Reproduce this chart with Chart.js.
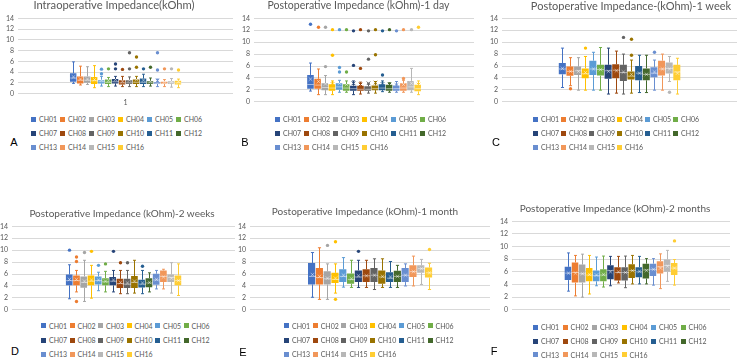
<!DOCTYPE html>
<html>
<head>
<meta charset="utf-8">
<script src="https://cdn.jsdelivr.net/npm/chart.js@4.4.1/dist/chart.umd.min.js"></script>
<style>
  body { margin: 0; width: 740px; height: 358px; background: #fff; position: relative; overflow: hidden; font-family: Lato, sans-serif; }
  canvas { position: absolute; }
  .ttl { position: absolute; color: #595959; white-space: nowrap; line-height: 1.2; transform: translate(-50%, -50%); }
  .leg { position: absolute; font-size: 7px; line-height: 8px; color: #595959; white-space: nowrap; }
  .leg i { position: absolute; left: 0; top: 1.5px; width: 5px; height: 5px; }
  .leg span { position: absolute; left: 8px; top: 0; }
  .tag { position: absolute; font: 11px "Liberation Sans", Arial, sans-serif; color: #000; transform: translate(-50%, -50%); }
</style>
</head>
<body>
<script>
  // channels and Excel-style series colours
  const channels = ['CH01', 'CH02', 'CH03', 'CH04', 'CH05', 'CH06', 'CH07', 'CH08',
                    'CH09', 'CH10', 'CH11', 'CH12', 'CH13', 'CH14', 'CH15', 'CH16'];
  const colors = ['#4472C4', '#ED7D31', '#A5A5A5', '#FFC000', '#5B9BD5', '#70AD47', '#264478', '#9E480E',
                  '#636363', '#997300', '#255E91', '#43682B', '#698ED0', '#F1975A', '#B7B7B7', '#FFCD33'];

  // each row: [min, q1, median, q3, max, mean]  (kOhm)
  const intraopBox = [
    [1.9, 2.2, 2.9, 3.8, 5.9, 3.1], [1.6, 1.9, 2.5, 3.2, 5.1, 2.7], [1.7, 2.0, 2.5, 3.2, 5.0, 2.7], [1.1, 1.8, 2.4, 3.1, 5.2, 2.6],
    [1.4, 1.9, 2.2, 2.5, 3.2, 2.5], [1.3, 1.8, 2.1, 2.6, 3.0, 2.4], [1.4, 1.9, 2.2, 2.7, 3.2, 2.6], [1.3, 1.7, 2.0, 2.5, 3.2, 2.3],
    [1.3, 1.8, 2.0, 2.5, 3.1, 2.5], [1.3, 1.8, 2.1, 2.6, 3.2, 2.6], [1.3, 1.8, 2.1, 2.8, 3.6, 2.5], [1.4, 1.8, 2.0, 2.3, 2.9, 2.3],
    [1.3, 1.8, 1.9, 2.1, 2.7, 2.4], [1.3, 1.8, 1.9, 2.2, 2.6, 2.2], [1.2, 1.8, 2.0, 2.3, 2.8, 2.2], [1.1, 1.7, 2.0, 2.4, 2.7, 2.2]
  ];
  const intraopOut = [[], [], [], [], [4.55, 3.7], [4.6], [5.5, 4.6], [4.5], [7.6, 4.6], [6.8, 4.9], [4.6], [4.9], [7.6, 4.4], [4.6], [4.6], [4.4]];

  const day1Box = [
    [1.8, 2.2, 2.9, 4.5, 6.5, 3.8], [1.2, 2.2, 2.8, 3.85, 5.5, 3.4], [1.2, 1.95, 2.4, 3.1, 4.4, 3.0], [1.2, 1.85, 2.3, 2.95, 3.5, 3.0],
    [1.6, 2.0, 2.5, 3.1, 3.6, 3.1], [1.6, 1.85, 2.3, 2.95, 3.5, 2.9], [1.2, 1.85, 2.2, 2.7, 3.5, 3.1], [1.3, 1.85, 2.1, 2.7, 3.3, 2.9],
    [1.45, 1.85, 2.1, 2.6, 3.1, 3.1], [1.45, 1.95, 2.2, 2.75, 3.4, 3.2], [1.7, 1.95, 2.3, 2.95, 3.5, 3.0], [1.6, 1.85, 2.2, 2.85, 3.2, 2.9],
    [1.6, 1.85, 2.2, 2.75, 3.4, 2.8], [1.6, 1.85, 2.3, 3.1, 3.6, 2.9], [1.6, 1.95, 2.5, 3.5, 5.6, 3.1], [1.2, 1.75, 2.2, 2.85, 3.5, 2.9]
  ];
  const day1Out = [[13.0], [12.5], [12.5, 5.9], [12.1, 7.8], [12.1, 5.75, 5.0], [12.1, 5.0], [11.9, 6.1], [12.1, 5.6],
                   [11.9, 7.15], [12.1, 7.9], [11.9, 4.5], [12.1], [11.9], [12.1, 3.9], [12.1], [12.5]];

  const week1Box = [
    [2.4, 4.6, 5.5, 6.5, 9.0, 5.6], [2.7, 4.35, 5.1, 5.9, 7.4, 5.1], [1.95, 4.5, 5.2, 5.9, 7.4, 5.1], [1.95, 3.95, 4.7, 5.6, 7.6, 4.9],
    [1.95, 4.5, 5.5, 6.9, 8.3, 5.5], [1.95, 4.4, 5.4, 6.2, 9.1, 5.4], [1.3, 3.85, 5.2, 6.2, 9.0, 5.1], [1.45, 3.95, 5.3, 6.3, 8.5, 5.2],
    [1.3, 3.5, 4.9, 6.2, 8.0, 5.0], [1.45, 3.75, 4.3, 5.1, 7.0, 4.6], [1.55, 3.6, 4.8, 6.0, 7.8, 4.8], [1.55, 3.6, 4.6, 5.6, 7.8, 4.6],
    [1.95, 4.1, 4.8, 5.8, 7.0, 5.0], [1.95, 4.4, 5.5, 6.9, 8.0, 5.5], [3.4, 4.75, 5.6, 6.6, 7.6, 5.5], [1.3, 3.6, 5.0, 6.2, 7.3, 4.8]
  ];
  const week1Out = [[], [2.2], [], [9.0], [], [], [], [], [10.8], [10.5, 7.8], [], [], [8.3], [], [1.6], []];

  const week2Box = [
    [1.85, 4.1, 4.9, 5.9, 7.55, 5.1], [3.0, 4.1, 4.9, 5.75, 6.6, 5.1], [1.4, 3.7, 4.6, 5.6, 8.3, 4.8], [1.95, 4.1, 4.8, 5.75, 7.45, 5.0],
    [3.2, 4.25, 4.9, 5.6, 6.3, 5.0], [3.0, 4.1, 4.7, 5.3, 6.45, 4.8], [3.0, 4.1, 4.8, 5.5, 6.6, 5.0], [2.7, 3.65, 4.4, 5.2, 6.6, 4.6],
    [2.7, 3.65, 4.3, 5.2, 6.6, 4.5], [2.8, 3.65, 4.6, 5.65, 8.3, 4.8], [2.7, 3.75, 4.3, 5.05, 6.6, 4.5], [3.0, 3.8, 4.5, 5.3, 6.2, 4.6],
    [3.5, 4.2, 5.0, 6.05, 6.6, 5.1], [3.5, 4.65, 5.6, 6.6, 6.8, 5.5], [2.8, 4.65, 5.4, 5.9, 7.9, 5.3], [2.4, 4.1, 4.9, 5.75, 7.7, 4.9]
  ];
  const week2Out = [[10.0], [8.85, 8.1, 1.4], [9.6], [9.8], [7.45], [7.7], [9.8], [7.9], [7.9], [], [7.3], [], [], [], [], []];

  const month1Box = [
    [2.1, 4.25, 5.6, 7.85, 9.6, 5.9], [1.75, 4.25, 5.4, 7.0, 10.4, 5.6], [1.75, 4.25, 5.2, 6.45, 7.7, 5.3], [2.8, 4.5, 5.1, 6.2, 7.7, 5.3],
    [3.8, 4.65, 5.6, 6.8, 8.75, 5.8], [3.75, 4.35, 5.1, 6.1, 8.3, 5.2], [3.75, 4.65, 5.5, 6.6, 8.3, 5.7], [3.75, 4.65, 5.7, 6.8, 8.3, 5.7],
    [3.4, 4.65, 5.8, 7.0, 8.55, 5.8], [3.75, 4.35, 5.5, 6.6, 8.55, 5.6], [3.75, 4.65, 5.3, 6.3, 8.1, 5.5], [3.75, 4.65, 5.6, 6.55, 7.45, 5.6],
    [4.0, 4.65, 5.8, 7.0, 7.7, 5.8], [4.0, 5.5, 6.4, 7.45, 9.0, 6.4], [4.25, 6.2, 6.9, 7.45, 8.45, 6.9], [3.4, 5.4, 6.2, 7.1, 7.8, 6.2]
  ];
  const month1Out = [[], [], [10.8], [11.4, 1.75], [], [], [9.8], [], [], [], [], [], [], [], [], [10.1]];

  const month2Box = [
    [2.95, 4.7, 5.8, 6.8, 9.0, 5.8], [2.2, 4.3, 5.9, 7.5, 8.6, 5.8], [2.0, 4.3, 5.7, 7.15, 8.8, 5.7], [2.5, 4.5, 5.5, 6.6, 8.6, 5.6],
    [3.8, 4.5, 5.4, 6.2, 8.35, 5.5], [3.6, 4.5, 5.5, 6.4, 8.5, 5.6], [3.8, 4.85, 6.2, 7.05, 8.45, 6.0], [4.25, 4.65, 5.9, 6.75, 8.45, 6.0],
    [3.5, 4.65, 5.9, 6.75, 8.5, 5.9], [4.1, 5.05, 6.2, 7.2, 8.6, 6.2], [4.1, 5.15, 6.0, 6.75, 8.45, 6.1], [4.1, 4.95, 6.3, 7.3, 8.1, 6.2],
    [3.9, 5.35, 6.4, 7.3, 8.1, 6.4], [3.35, 5.75, 6.8, 7.7, 8.85, 6.6], [4.5, 6.0, 7.0, 7.95, 9.4, 6.9], [3.9, 5.5, 6.6, 7.4, 7.95, 6.6]
  ];
  const month2Out = [[], [], [], [], [], [], [], [], [], [], [], [], [], [], [], [10.9]];

  Chart.defaults.font.family = 'Lato, sans-serif';

  // draws whiskers, median, mean and outliers on top of the floating q1..q3 bars
  const boxPlugin = {
    id: 'boxWhisker',
    afterDatasetsDraw(chart) {
      const ctx = chart.ctx;
      const ys = chart.scales.y;
      chart.data.datasets.forEach((ds, i) => {
        const bar = chart.getDatasetMeta(i).data[0];
        const x = Math.round(bar.x) + 0.5;
        const w = bar.width;
        const [mn, q1, md, q3, mx, mean] = ds.stats;
        ctx.save();
        ctx.strokeStyle = ds.backgroundColor;
        ctx.lineWidth = 1;
        ctx.beginPath();
        ctx.moveTo(x, ys.getPixelForValue(q3)); ctx.lineTo(x, ys.getPixelForValue(mx));
        ctx.moveTo(x, ys.getPixelForValue(q1)); ctx.lineTo(x, ys.getPixelForValue(mn));
        ctx.moveTo(x - w * 0.22, ys.getPixelForValue(mx)); ctx.lineTo(x + w * 0.22, ys.getPixelForValue(mx));
        ctx.moveTo(x - w * 0.22, ys.getPixelForValue(mn)); ctx.lineTo(x + w * 0.22, ys.getPixelForValue(mn));
        ctx.stroke();

        // median
        ctx.strokeStyle = 'rgba(255,255,255,0.5)';
        ctx.beginPath();
        const my = ys.getPixelForValue(md);
        ctx.moveTo(x - w / 2, my); ctx.lineTo(x + w / 2, my);
        ctx.stroke();

        // mean marker
        const ay = ys.getPixelForValue(mean);
        ctx.strokeStyle = (mean > q3 || mean < q1) ? ds.backgroundColor : 'rgba(255,255,255,0.45)';
        ctx.beginPath();
        ctx.moveTo(x - 1.8, ay - 1.8); ctx.lineTo(x + 1.8, ay + 1.8);
        ctx.moveTo(x - 1.8, ay + 1.8); ctx.lineTo(x + 1.8, ay - 1.8);
        ctx.stroke();

        // outliers
        ctx.fillStyle = ds.backgroundColor;
        ds.out.forEach(v => {
          ctx.beginPath();
          ctx.arc(x, ys.getPixelForValue(v), 1.7, 0, Math.PI * 2);
          ctx.fill();
        });
        ctx.restore();
      });
    }
  };

  const panels = [
    { tag: 'A', title: 'Intraoperative Impedance(kOhm)', box: intraopBox, out: intraopOut,
      left: 0, top: 0, w: 245, h: 112, pad: { left: 2, right: 12, top: 18.3, bottom: 0 }, showX: true,
      ttl: { x: 114, y: 5, size: 11.2 }, leg: { x: 31, dx: 29, y: [119, 133, 147] }, tagPos: [14, 142] },
    { tag: 'B', title: 'Postoperative Impedance (kOhm)-1 day', box: day1Box, out: day1Out,
      left: 238, top: 0, w: 252, h: 110.2, pad: { left: 0, right: 16, top: 18.3, bottom: 0 }, showX: false,
      ttl: { x: 358.5, y: 5, size: 10.5 }, leg: { x: 275, dx: 29, y: [119, 133, 147] }, tagPos: [245, 142] },
    { tag: 'C', title: 'Postoperative Impedance-(kOhm)-1 week', box: week1Box, out: week1Out,
      left: 486, top: 0, w: 254, h: 110.2, pad: { left: 0, right: 3, top: 18.3, bottom: 0 }, showX: false,
      ttl: { x: 631, y: 5.5, size: 11 }, leg: { x: 533, dx: 28, y: [119, 133, 147] }, tagPos: [496, 142] },
    { tag: 'D', title: 'Postoperative Impedance (kOhm)-2 weeks', box: week2Box, out: week2Out,
      left: -4, top: 200, w: 249, h: 118, pad: { left: 0, right: 10, top: 26.3, bottom: 0 }, showX: false,
      ttl: { x: 122, y: 212.5, size: 10 }, leg: { x: 41, dx: 28.5, y: [325.7, 340.3, 354] }, tagPos: [15, 351] },
    { tag: 'E', title: 'Postoperative Impedance (kOhm)-1 month', box: month1Box, out: month1Out,
      left: 234, top: 200, w: 264, h: 118, pad: { left: 0, right: 8, top: 26.3, bottom: 0 }, showX: false,
      ttl: { x: 365, y: 210.5, size: 10 }, leg: { x: 284, dx: 28.7, y: [325.7, 340.3, 354] }, tagPos: [243, 352] },
    { tag: 'F', title: 'Postoperative Impedance (kOhm)-2 months', box: month2Box, out: month2Out,
      left: 496, top: 200, w: 244, h: 118.2, pad: { left: 0, right: 10, top: 21.3, bottom: 0 }, showX: false,
      ttl: { x: 615, y: 208, size: 10 }, leg: { x: 533, dx: 29.5, y: [327, 341.3, 354.7] }, tagPos: [494, 351] }
  ];

  function addDiv(cls, x, y, html) {
    const d = document.createElement('div');
    d.className = cls;
    d.style.left = x + 'px';
    d.style.top = y + 'px';
    d.innerHTML = html;
    document.body.appendChild(d);
    return d;
  }

  function makePanel(p) {
    const cv = document.createElement('canvas');
    cv.width = p.w;
    cv.height = p.h;
    cv.style.left = p.left + 'px';
    cv.style.top = p.top + 'px';
    document.body.appendChild(cv);

    new Chart(cv, {
      type: 'bar',
      data: {
        labels: ['1'],
        datasets: channels.map((c, i) => ({
          label: c,
          data: [[p.box[i][1], p.box[i][3]]],
          backgroundColor: colors[i],
          stats: p.box[i],
          out: p.out[i],
          categoryPercentage: 0.52,
          barPercentage: 0.92
        }))
      },
      options: {
        responsive: false,
        animation: false,
        layout: { padding: p.pad },
        plugins: {
          legend: { display: false },
          tooltip: { enabled: false },
          title: { display: false }
        },
        scales: {
          x: {
            display: p.showX,
            grid: { display: false, drawTicks: false },
            border: { display: false },
            ticks: { color: '#595959', font: { size: 7 }, padding: 5 }
          },
          y: {
            min: 0, max: 14,
            ticks: { stepSize: 2, autoSkip: false, color: '#595959', font: { size: 7 }, padding: 4 },
            grid: { color: '#d9d9d9', drawTicks: false },
            border: { display: false }
          }
        }
      },
      plugins: [boxPlugin]
    });

    const t = addDiv('ttl', p.ttl.x, p.ttl.y, p.title);
    t.style.fontSize = p.ttl.size + 'px';

    // legend: 6 per row, left aligned
    channels.forEach((c, i) => {
      addDiv('leg', p.leg.x + (i % 6) * p.leg.dx, p.leg.y[Math.floor(i / 6)] - 4,
             '<i style="background:' + colors[i] + '"></i><span>' + c + '</span>');
    });

    addDiv('tag', p.tagPos[0], p.tagPos[1], p.tag);
  }

  panels.forEach(makePanel);
</script>
</body>
</html>
